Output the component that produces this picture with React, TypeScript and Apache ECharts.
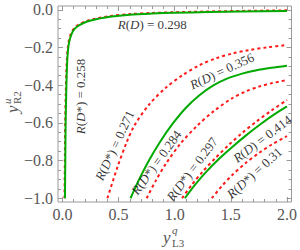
import React, { useEffect, useRef } from "react";
import * as echarts from "echarts";

// Tick values
const xMajor = [0, 0.5, 1, 1.5, 2];
const xMinor = [0.1, 0.2, 0.3, 0.4, 0.6, 0.7, 0.8, 0.9, 1.1, 1.2, 1.3, 1.4, 1.6, 1.7, 1.8, 1.9];
const yMajor = [-1, -0.8, -0.6, -0.4, -0.2, 0];
const yMinor = [-0.95, -0.9, -0.85, -0.75, -0.7, -0.65, -0.55, -0.5, -0.45, -0.35, -0.3, -0.25, -0.15, -0.1, -0.05];

// Contours: R(D) (green, solid)
const rD0298 = [[0.022, -1.0], [0.025, -0.8], [0.028, -0.6], [0.033, -0.45], [0.04, -0.3], [0.048, -0.22], [0.06, -0.17], [0.08, -0.13], [0.11, -0.1], [0.155, -0.08], [0.22, -0.062], [0.3, -0.05], [0.42, -0.037], [0.6, -0.026], [0.8, -0.02], [1.0, -0.016], [1.3, -0.012], [1.6, -0.009], [2.0, -0.006]];
const rD0356 = [[0.606, -1.0], [0.68, -0.904], [0.77, -0.8], [0.87, -0.7], [0.98, -0.606], [1.1, -0.52], [1.22, -0.454], [1.34, -0.403], [1.46, -0.367], [1.6, -0.339], [1.72, -0.322], [1.86, -0.308], [2.0, -0.297]];
const rD0414 = [[1.09, -1.0], [1.18, -0.929], [1.28, -0.86], [1.4, -0.788], [1.51, -0.729], [1.63, -0.669], [1.76, -0.609], [1.88, -0.558], [2.0, -0.513]];

// Contours: R(D*) (red, dashed)
const rDs0258 = [[0.018, -1.0], [0.021, -0.8], [0.024, -0.6], [0.029, -0.45], [0.036, -0.3], [0.044, -0.22], [0.056, -0.166], [0.076, -0.126], [0.106, -0.097], [0.15, -0.077], [0.215, -0.059], [0.295, -0.047], [0.415, -0.034], [0.6, -0.023], [0.8, -0.017], [1.0, -0.013], [1.3, -0.009], [1.6, -0.006], [2.0, -0.003]];
const rDs0271 = [[0.4, -1.0], [0.49, -0.834], [0.57, -0.706], [0.64, -0.615], [0.77, -0.504], [0.92, -0.414], [1.07, -0.347], [1.22, -0.294], [1.37, -0.257], [1.52, -0.231], [1.66, -0.214], [1.83, -0.199], [2.0, -0.187]];
const rDs0284 = [[0.75, -1.0], [0.83, -0.908], [0.92, -0.818], [1.05, -0.711], [1.2, -0.615], [1.35, -0.537], [1.51, -0.47], [1.63, -0.434], [1.75, -0.408], [1.87, -0.389], [2.0, -0.373]];
const rDs0297 = [[1.065, -1.0], [1.15, -0.93], [1.25, -0.858], [1.36, -0.788], [1.48, -0.718], [1.6, -0.654], [1.73, -0.592], [1.86, -0.535], [2.0, -0.479]];
const rDs0310 = [[1.33, -1.0], [1.42, -0.935], [1.51, -0.878], [1.63, -0.814], [1.75, -0.76], [1.87, -0.713], [2.0, -0.67]];

// Contour labels: [x, y, text, angle]
const contourLabels: [number, number, string, number][] = [
  [0.8, -0.08, "{i|R}({i|D}) = 0.298", 0],
  [0.164, -0.46, "{i|R}({i|D}*) = 0.258", 90],
  [1.42, -0.325, "{i|R}({i|D}) = 0.356", 25],
  [0.465, -0.72, "{i|R}({i|D}*) = 0.271", 65],
  [0.836, -0.81, "{i|R}({i|D}*) = 0.284", 54],
  [1.155, -0.845, "{i|R}({i|D}*) = 0.297", 53],
  [1.78, -0.685, "{i|R}({i|D}) = 0.414", 37],
  [1.71, -0.865, "{i|R}({i|D}*) = 0.31", 42],
];

const SERIF = "Liberation Serif";
const GREEN = "#00aa00";
const RED = "#ff1a1a";
const FRAME = "#9a9a9a";
const LABEL = "#555555";

const fmt = (v: number) => (Math.abs(v) < 1e-9 ? "0.0" : (v < 0 ? "\u2212" : "") + Math.abs(v).toFixed(1));

function axisDef(kind: "x" | "y", position: string, values: number[], len: number, labels: boolean) {
  const isX = kind === "x";
  return {
    type: "value",
    position,
    min: isX ? -0.04 : -1.02,
    max: isX ? 2.04 : 0.02,
    axisLine: { show: false, onZero: false },
    splitLine: { show: false },
    axisTick: { show: true, inside: true, length: len, customValues: values, lineStyle: { color: FRAME, width: 1 } },
    axisLabel: labels
      ? {
          show: true,
          customValues: values,
          formatter: fmt,
          fontFamily: SERIF,
          fontStyle: "normal",
          fontWeight: "normal",
          fontSize: 16,
          color: LABEL,
          margin: isX ? 4 : 5,
        }
      : { show: false },
  };
}

export default function App() {
  const ref = useRef<HTMLDivElement>(null);
  useEffect(() => {
    if (!ref.current) return;
    const chart = echarts.init(ref.current, undefined, { renderer: "svg" });
    const lineSeries = (data: number[][], color: string, dashed: boolean) => ({
      type: "line",
      data,
      xAxisIndex: 0,
      yAxisIndex: 0,
      showSymbol: false,
      symbol: "none",
      smooth: 0.3,
      lineStyle: { color, width: 2, type: dashed ? [3, 3] : "solid" },
      z: dashed ? 2 : 3,
    });
    chart.setOption({
      animation: false,
      textStyle: { fontFamily: SERIF },
      grid: { left: 58, right: 7, top: 6, bottom: 48, show: true, borderColor: FRAME, borderWidth: 1, backgroundColor: "transparent" },
      xAxis: [
        axisDef("x", "bottom", xMajor, 5, true),
        axisDef("x", "bottom", xMinor, 3, false),
        axisDef("x", "top", xMajor, 5, false),
        axisDef("x", "top", xMinor, 3, false),
      ],
      yAxis: [
        axisDef("y", "left", yMajor, 5, true),
        axisDef("y", "left", yMinor, 3, false),
        axisDef("y", "right", yMajor, 5, false),
        axisDef("y", "right", yMinor, 3, false),
      ],
      series: [
        lineSeries(rDs0258, RED, true),
        lineSeries(rD0298, GREEN, false),
        lineSeries(rDs0271, RED, true),
        lineSeries(rD0356, GREEN, false),
        lineSeries(rDs0284, RED, true),
        lineSeries(rDs0297, RED, true),
        lineSeries(rD0414, GREEN, false),
        lineSeries(rDs0310, RED, true),
        {
          type: "scatter",
          xAxisIndex: 0,
          yAxisIndex: 0,
          symbolSize: 0,
          z: 5,
          data: contourLabels.map(([x, y, text, angle]) => ({
            value: [x, y],
            label: { rotate: angle, formatter: text },
          })),
          label: {
            show: true,
            position: "inside",
            fontFamily: SERIF,
            fontSize: 13,
            color: "#000",
            rich: { i: { fontStyle: "italic", fontFamily: SERIF, fontSize: 13, color: "#000" } },
          },
          emphasis: { disabled: true },
        },
      ],
      graphic: [
        {
          type: "group",
          x: 12.5,
          y: 113,
          rotation: Math.PI / 2,
          children: [
            { type: "text", x: 0, y: 0, style: { text: "y", fontFamily: SERIF, fontStyle: "italic", fontSize: 17, fill: LABEL, align: "left", verticalAlign: "middle" } },
            { type: "text", x: 9, y: -6, style: { text: "u", fontFamily: SERIF, fontStyle: "italic", fontSize: 11, fill: LABEL, align: "left", verticalAlign: "middle" } },
            { type: "text", x: 9, y: 4, style: { text: "R2", fontFamily: SERIF, fontSize: 11, fill: LABEL, align: "left", verticalAlign: "middle" } },
          ],
        },
        {
          type: "group",
          x: 163,
          y: 237,
          children: [
            { type: "text", x: 0, y: 0, style: { text: "y", fontFamily: SERIF, fontStyle: "italic", fontSize: 17, fill: LABEL, align: "left", verticalAlign: "middle" } },
            { type: "text", x: 9, y: -7, style: { text: "q", fontFamily: SERIF, fontStyle: "italic", fontSize: 11, fill: LABEL, align: "left", verticalAlign: "middle" } },
            { type: "text", x: 9, y: 6, style: { text: "L3", fontFamily: SERIF, fontSize: 11, fill: LABEL, align: "left", verticalAlign: "middle" } },
          ],
        },
      ],
    });
    return () => chart.dispose();
  }, []);
  return <div ref={ref} style={{ width: 300, height: 250, position: "absolute", left: 0, top: 0 }} />;
}
